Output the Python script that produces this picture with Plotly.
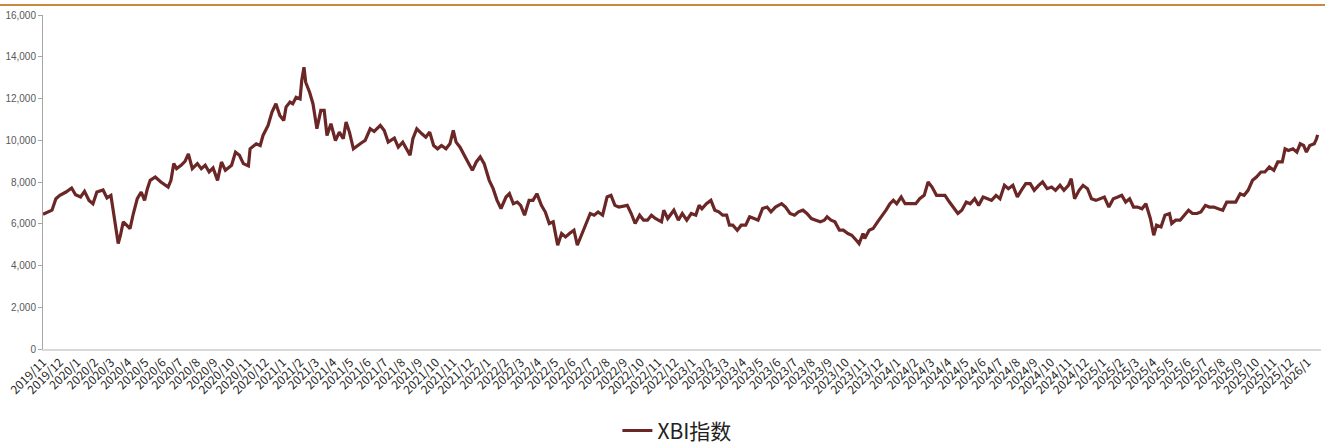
import plotly.graph_objects as go

series_name = "XBI指数"

dates = [
    "2019-11-01", "2019-11-10", "2019-11-17", "2019-11-24", "2019-12-01", "2019-12-12", "2019-12-22", "2019-12-29",
    "2020-01-07", "2020-01-14", "2020-01-22", "2020-01-29", "2020-02-05", "2020-02-16", "2020-02-23", "2020-03-01",
    "2020-03-06", "2020-03-10", "2020-03-14", "2020-03-18", "2020-03-23", "2020-03-29", "2020-04-04", "2020-04-10",
    "2020-04-17", "2020-04-24", "2020-04-30", "2020-05-05", "2020-05-10", "2020-05-19", "2020-05-29", "2020-06-11",
    "2020-06-16", "2020-06-21", "2020-06-26", "2020-07-04", "2020-07-11", "2020-07-17", "2020-07-24", "2020-08-02",
    "2020-08-09", "2020-08-16", "2020-08-23", "2020-08-30", "2020-09-07", "2020-09-14", "2020-09-21", "2020-10-02",
    "2020-10-09", "2020-10-16", "2020-10-23", "2020-11-01", "2020-11-04", "2020-11-15", "2020-11-22", "2020-11-27",
    "2020-12-06", "2020-12-13", "2020-12-20", "2020-12-27", "2021-01-03", "2021-01-07", "2021-01-14", "2021-01-19",
    "2021-01-25", "2021-02-01", "2021-02-04", "2021-02-08", "2021-02-11", "2021-02-18", "2021-02-24", "2021-03-03",
    "2021-03-10", "2021-03-16", "2021-03-21", "2021-03-28", "2021-04-05", "2021-04-12", "2021-04-19", "2021-04-24",
    "2021-04-30", "2021-05-07", "2021-05-14", "2021-05-21", "2021-05-28", "2021-06-06", "2021-06-13", "2021-06-24",
    "2021-07-01", "2021-07-08", "2021-07-19", "2021-07-26", "2021-08-03", "2021-08-10", "2021-08-16", "2021-08-21",
    "2021-08-28", "2021-09-06", "2021-09-13", "2021-09-20", "2021-09-27", "2021-10-04", "2021-10-11", "2021-10-19",
    "2021-10-26", "2021-11-01", "2021-11-06", "2021-11-13", "2021-11-20", "2021-11-27", "2021-12-05", "2021-12-12",
    "2021-12-19", "2021-12-26", "2022-01-04", "2022-01-11", "2022-01-18", "2022-01-25", "2022-02-03", "2022-02-09",
    "2022-02-16", "2022-02-23", "2022-03-01", "2022-03-08", "2022-03-16", "2022-03-23", "2022-03-30", "2022-04-07",
    "2022-04-14", "2022-04-21", "2022-04-28", "2022-05-06", "2022-05-13", "2022-05-20", "2022-05-27", "2022-06-04",
    "2022-06-10", "2022-06-18", "2022-06-25", "2022-07-03", "2022-07-10", "2022-07-17", "2022-07-25", "2022-08-02",
    "2022-08-09", "2022-08-16", "2022-08-23", "2022-09-07", "2022-09-14", "2022-09-21", "2022-09-29", "2022-10-06",
    "2022-10-13", "2022-10-20", "2022-10-27",
    "2022-11-07", "2022-11-11", "2022-11-18", "2022-11-29", "2022-12-07", "2022-12-14", "2022-12-22", "2022-12-30",
    "2023-01-07", "2023-01-13", "2023-01-18", "2023-01-26", "2023-02-03", "2023-02-10", "2023-02-17", "2023-02-24",
    "2023-03-03", "2023-03-08", "2023-03-14", "2023-03-22", "2023-03-29", "2023-04-06", "2023-04-13", "2023-04-21",
    "2023-04-28", "2023-05-06", "2023-05-14", "2023-05-21", "2023-05-29", "2023-06-09", "2023-06-16", "2023-06-24",
    "2023-07-02", "2023-07-09", "2023-07-17", "2023-07-24", "2023-08-01", "2023-08-09", "2023-08-17", "2023-08-24",
    "2023-08-29", "2023-09-05", "2023-09-12", "2023-09-20", "2023-09-27", "2023-10-05", "2023-10-12", "2023-10-20",
    "2023-10-25", "2023-11-01", "2023-11-04", "2023-11-12", "2023-11-19", "2023-11-27", "2023-12-04", "2023-12-12",
    "2023-12-19", "2023-12-25", "2023-12-31", "2024-01-08", "2024-01-15", "2024-01-27", "2024-02-03", "2024-02-10",
    "2024-02-18", "2024-02-25", "2024-03-03", "2024-03-11", "2024-03-18", "2024-03-26", "2024-04-03", "2024-04-10",
    "2024-04-18", "2024-04-25", "2024-05-03", "2024-05-10", "2024-05-18", "2024-05-25", "2024-06-02", "2024-06-10",
    "2024-06-17", "2024-06-25", "2024-07-02", "2024-07-10", "2024-07-17", "2024-07-25", "2024-08-02", "2024-08-09",
    "2024-08-17", "2024-08-25", "2024-09-01", "2024-09-09", "2024-09-16", "2024-09-24", "2024-10-02", "2024-10-09",
    "2024-10-17", "2024-10-24", "2024-11-01", "2024-11-06", "2024-11-12", "2024-11-20", "2024-11-27", "2024-12-05",
    "2024-12-12", "2024-12-20", "2024-12-28", "2025-01-04", "2025-01-12", "2025-01-20", "2025-01-28", "2025-02-04",
    "2025-02-11", "2025-02-18", "2025-02-25", "2025-03-04", "2025-03-12", "2025-03-19", "2025-03-27", "2025-04-02",
    "2025-04-07", "2025-04-15", "2025-04-22", "2025-04-30", "2025-05-04", "2025-05-11", "2025-05-19", "2025-05-26",
    "2025-06-03", "2025-06-10", "2025-06-18", "2025-06-25", "2025-07-03", "2025-07-10", "2025-07-18", "2025-07-26",
    "2025-08-03", "2025-08-10", "2025-08-18", "2025-08-26", "2025-09-03", "2025-09-10", "2025-09-17", "2025-09-25",
    "2025-10-02", "2025-10-10", "2025-10-17", "2025-10-25", "2025-11-02", "2025-11-09", "2025-11-17", "2025-11-22",
    "2025-11-28", "2025-12-06", "2025-12-13", "2025-12-19", "2025-12-25", "2025-12-30", "2026-01-05", "2026-01-13",
    "2026-01-17", "2026-01-19",
]

xbi_values = [
    6450, 6560, 6650, 7200, 7360, 7520, 7710, 7390,
    7280, 7550, 7120, 6960, 7520, 7620, 7240, 7360,
    6490, 5610, 5050, 5450, 6090, 5930, 5770, 6490,
    7200, 7520, 7120, 7680, 8080, 8240, 8000, 7760,
    8080, 8880, 8640, 8800, 8990, 9350, 8640, 8880,
    8640, 8800, 8480, 8670, 8080, 8960, 8560, 8800,
    9430, 9280, 8880, 8770, 9590, 9830, 9750, 10230,
    10710, 11350, 11750, 11190, 10950, 11590, 11830, 11750,
    12060, 11980, 12860, 13500, 12780, 12300, 11750, 10550,
    11430, 11430, 10230, 10790, 9990, 10390, 10070, 10870,
    10390, 9590, 9750, 9870, 9990, 10550, 10420, 10710,
    10470, 9910, 10100, 9670, 9910, 9590, 9280, 10070,
    10550, 10310, 10150, 10390, 9750, 9590, 9750, 9590,
    9830, 10470, 9910, 9670, 9350, 8960, 8560, 8960,
    9200, 8880, 8080, 7680, 7120, 6730, 7280, 7440,
    6960, 7040, 6880, 6410, 7120, 7120, 7440, 6880,
    6560, 6010, 6090, 4970, 5530, 5370, 5530, 5690,
    4970, 5530, 6010, 6490, 6410, 6560, 6410, 7280,
    7360, 6880, 6800, 6880, 6490, 6010, 6410, 6170,
    6170, 6410, 6250,
    6090, 6650, 6250, 6650, 6170, 6490, 6170, 6490,
    6410, 6880, 6720, 6960, 7120, 6650, 6570, 6410,
    6410, 5930, 5930, 5690, 5930, 5930, 6330, 6250,
    6170, 6730, 6800, 6570, 6800, 6960, 6800, 6490,
    6410, 6570, 6650, 6490, 6250, 6170, 6090, 6170,
    6330, 6170, 6090, 5690, 5690, 5530, 5450, 5210,
    5050, 5530, 5290, 5690, 5770, 6090, 6330, 6650,
    6960, 7120, 6960, 7280, 6960, 6960, 6960, 7200,
    7360, 8000, 7760, 7360, 7360, 7360, 7040, 6800,
    6490, 6650, 7040, 6960, 7200, 6880, 7280, 7200,
    7120, 7360, 7200, 7840, 7680, 7840, 7280, 7600,
    7920, 7920, 7600, 7840, 8000, 7680, 7760, 7600,
    7840, 7600, 7840, 8160, 7200, 7600, 7840, 7680,
    7200, 7120, 7200, 7280, 6800, 7200, 7280, 7360,
    7040, 7200, 6800, 6800, 6720, 6960, 6250, 5450,
    5930, 5850, 6410, 6490, 6010, 6170, 6170, 6410,
    6650, 6490, 6490, 6570, 6880, 6800, 6800, 6720,
    6650, 7040, 7040, 7040, 7440, 7360, 7600, 8080,
    8240, 8480, 8480, 8720, 8560, 8960, 8960, 9590,
    9510, 9590, 9430, 9830, 9750, 9430, 9750, 9830,
    10070, 10260,
]

tick_dates = [
    "2019-11-01", "2019-12-01", "2020-01-01", "2020-02-01", "2020-03-01", "2020-04-01", "2020-05-01", "2020-06-01",
    "2020-07-01", "2020-08-01", "2020-09-01", "2020-10-01", "2020-11-01", "2020-12-01", "2021-01-01", "2021-02-01",
    "2021-03-01", "2021-04-01", "2021-05-01", "2021-06-01", "2021-07-01", "2021-08-01", "2021-09-01", "2021-10-01",
    "2021-11-01", "2021-12-01", "2022-01-01", "2022-02-01", "2022-03-01", "2022-04-01", "2022-05-01", "2022-06-01",
    "2022-07-01", "2022-08-01", "2022-09-01", "2022-10-01", "2022-11-01", "2022-12-01", "2023-01-01", "2023-02-01",
    "2023-03-01", "2023-04-01", "2023-05-01", "2023-06-01", "2023-07-01", "2023-08-01", "2023-09-01", "2023-10-01",
    "2023-11-01", "2023-12-01", "2024-01-01", "2024-02-01", "2024-03-01", "2024-04-01", "2024-05-01", "2024-06-01",
    "2024-07-01", "2024-08-01", "2024-09-01", "2024-10-01", "2024-11-01", "2024-12-01", "2025-01-01", "2025-02-01",
    "2025-03-01", "2025-04-01", "2025-05-01", "2025-06-01", "2025-07-01", "2025-08-01", "2025-09-01", "2025-10-01",
    "2025-11-01", "2025-12-01", "2026-01-01",
]

tick_labels = [
    "2019/11", "2019/12", "2020/1", "2020/2", "2020/3", "2020/4", "2020/5", "2020/6",
    "2020/7", "2020/8", "2020/9", "2020/10", "2020/11", "2020/12", "2021/1", "2021/2",
    "2021/3", "2021/4", "2021/5", "2021/6", "2021/7", "2021/8", "2021/9", "2021/10",
    "2021/11", "2021/12", "2022/1", "2022/2", "2022/3", "2022/4", "2022/5", "2022/6",
    "2022/7", "2022/8", "2022/9", "2022/10", "2022/11", "2022/12", "2023/1", "2023/2",
    "2023/3", "2023/4", "2023/5", "2023/6", "2023/7", "2023/8", "2023/9", "2023/10",
    "2023/11", "2023/12", "2024/1", "2024/2", "2024/3", "2024/4", "2024/5", "2024/6",
    "2024/7", "2024/8", "2024/9", "2024/10", "2024/11", "2024/12", "2025/1", "2025/2",
    "2025/3", "2025/4", "2025/5", "2025/6", "2025/7", "2025/8", "2025/9", "2025/10",
    "2025/11", "2025/12", "2026/1",
]

y_ticks = [0, 2000, 4000, 6000, 8000, 10000, 12000, 14000, 16000]

LINE_COLOR = "#6B2626"

fig = go.Figure()
fig.add_trace(go.Scatter(
    x=dates, y=xbi_values, mode="lines", name=series_name,
    line=dict(color=LINE_COLOR, width=3.2),
))

fig.update_layout(
    width=1325, height=448,
    margin=dict(l=43, r=4, t=15, b=99, autoexpand=False),
    paper_bgcolor="white", plot_bgcolor="white",
    showlegend=True,
    legend=dict(
        orientation="h", x=0.496, xanchor="center", y=-0.245, yanchor="middle",
        font=dict(family="Noto Sans CJK SC", size=21, color="#222222"),
        itemwidth=30, bgcolor="rgba(0,0,0,0)",
    ),
    xaxis=dict(
        type="date", range=["2019-11-01", "2026-01-25"], automargin=False,
        tickmode="array", tickvals=tick_dates, ticktext=tick_labels,
        tickangle=-45, showgrid=False, zeroline=False,
        showline=True, linecolor="#d9d9d9", linewidth=1.5, ticks="",
        tickfont=dict(family="Noto Sans CJK SC", size=12, color="#262626"),
    ),
    yaxis=dict(
        range=[0, 16000], tickmode="array", tickvals=y_ticks, automargin=False,
        tickformat=",d", showgrid=False, zeroline=False,
        showline=True, linecolor="#a6a6a6", linewidth=1,
        ticks="outside", ticklen=4, tickcolor="#a6a6a6",
        tickfont=dict(family="Liberation Sans, Arial", size=10, color="#595959"),
    ),
    shapes=[dict(
        type="line", xref="paper", yref="paper",
        x0=-0.04, x1=1.01, y0=1.03, y1=1.03,
        line=dict(color="#C98A3B", width=2),
    )],
)

fig.write_html(
    "out.html",
    config={"displayModeBar": False},
    post_script="document.body.style.margin='0px';document.body.style.overflow='hidden';",
)
